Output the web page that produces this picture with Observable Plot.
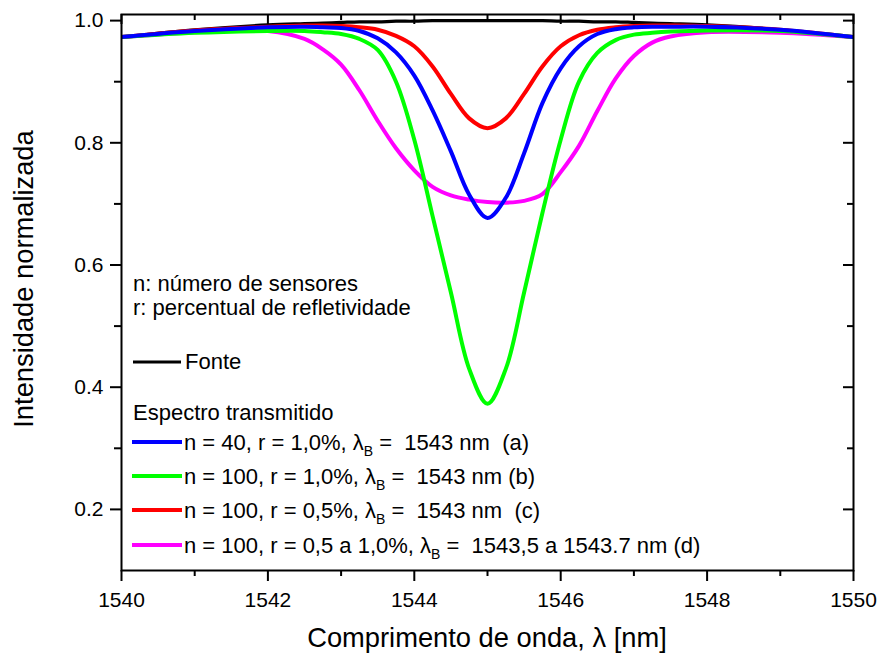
<!DOCTYPE html>
<html><head><meta charset="utf-8">
<script src="https://cdn.jsdelivr.net/npm/d3@7"></script>
<script src="https://cdn.jsdelivr.net/npm/@observablehq/plot@0.6"></script>
<style>
body{margin:0;background:#fff}
svg{font-family:"Liberation Sans",Arial,sans-serif}
</style>
</head><body><div id="chart"></div>
<script>
// Wavelength grid (nm)
const wavelength = [1540,1541,1542,1542.5,1542.75,1543,1543.25,1543.5,1543.75,1544,1544.25,1544.5,1544.75,1545,1545.25,1545.5,1545.75,1546,1546.25,1546.5,1546.75,1547,1547.25,1547.5,1548,1549,1550];
// Fonte (black)
const fonte  = [0.973,0.985,0.993,0.995,0.996,0.997,0.998,0.998,0.999,0.999,1.0,1.0,1.0,1.0,1.0,1.0,1.0,0.999,0.999,0.998,0.998,0.997,0.996,0.995,0.993,0.985,0.973];
// (a) n=40, r=1,0% (blue)
const serieA = [0.973,0.983,0.989,0.990,0.989,0.988,0.983,0.971,0.948,0.910,0.853,0.786,0.715,0.677,0.710,0.783,0.865,0.922,0.958,0.978,0.986,0.989,0.990,0.990,0.990,0.985,0.973];
// (b) n=100, r=1,0% (green)
const serieB = [0.973,0.980,0.983,0.983,0.981,0.978,0.970,0.952,0.900,0.805,0.680,0.555,0.430,0.373,0.430,0.555,0.685,0.805,0.900,0.947,0.968,0.977,0.980,0.982,0.984,0.983,0.973];
// (c) n=100, r=0,5% (red)
const serieC = [0.973,0.984,0.990,0.992,0.992,0.991,0.989,0.985,0.975,0.958,0.925,0.880,0.840,0.824,0.840,0.880,0.925,0.958,0.976,0.985,0.989,0.991,0.992,0.992,0.991,0.985,0.973];
// (d) n=100, r=0,5 a 1,0% (magenta)
const serieD = [0.973,0.981,0.983,0.970,0.953,0.928,0.886,0.836,0.791,0.755,0.728,0.714,0.707,0.703,0.702,0.705,0.716,0.752,0.795,0.852,0.905,0.942,0.964,0.974,0.981,0.980,0.973];

const xTicks = [1540,1542,1544,1546,1548,1550];
const xMinorTicks = [1541,1543,1545,1547,1549];
const yTicks = [0.2,0.4,0.6,0.8,1.0];
const yMinorTicks = [0.3,0.5,0.7,0.9];

const xTitle = "Comprimento de onda, λ [nm]";
const yTitle = "Intensidade normalizada";
const noteLines = ["n: número de sensores","r: percentual de refletividade"];
const fonteLabel = "Fonte";
const legendTitle = "Espectro transmitido";
const legendLabels = [
  ["n = 40, r = 1,0%, λ", "B", " =  1543 nm  (a)"],
  ["n = 100, r = 1,0%, λ", "B", " =  1543 nm (b)"],
  ["n = 100, r = 0,5%, λ", "B", " =  1543 nm  (c)"],
  ["n = 100, r = 0,5 a 1,0%, λ", "B", " =  1543,5 a 1543.7 nm (d)"]
];

// draw order: black, magenta, red, green, blue
const series = [
  {values: fonte,  color: "#000000", w: 3.2},
  {values: serieD, color: "#ff00ff", w: 4},
  {values: serieC, color: "#ff0000", w: 4},
  {values: serieB, color: "#00ff00", w: 4},
  {values: serieA, color: "#0000ff", w: 4}
];
const legendColors = ["#0000ff","#00ff00","#ff0000","#ff00ff"];

const W = 880, H = 657, mL = 121, mR = 27, mT = 14, mB = 87;
const fw = W - mL - mR, fh = H - mT - mB;

const lineMarks = series.map(s =>
  Plot.line(wavelength.map((x, i) => ({x, y: s.values[i]})), {
    x: "x", y: "y", stroke: s.color, strokeWidth: s.w, curve: "catmull-rom", clip: true
  })
);

const chart = Plot.plot({
  width: W, height: H,
  marginLeft: mL, marginRight: mR, marginTop: mT, marginBottom: mB,
  style: {background: "#fff", color: "#000", fontFamily: '"Liberation Sans",Arial,sans-serif'},
  x: {domain: [1540, 1550]},
  y: {domain: [0.1, 1.01]},
  marks: [
    ...lineMarks,
    Plot.frame({stroke: "#000", strokeWidth: 2}),
    Plot.axisX({ticks: xTicks, tickSize: 11, tickPadding: 11, strokeWidth: 2, fontSize: 21, tickFormat: d3.format("d"), label: null}),
    Plot.axisX({ticks: xMinorTicks, tickSize: 6, strokeWidth: 2, text: null, label: null}),
    Plot.axisY({ticks: yTicks, tickSize: 11, tickPadding: 7, strokeWidth: 2, fontSize: 21, tickFormat: d3.format(".1f"), label: null}),
    Plot.axisY({ticks: yMinorTicks, tickSize: 7, strokeWidth: 2, text: null, label: null}),
    Plot.tickX(xTicks, {x: d => d, insetBottom: fh - 10, stroke: "#000", strokeWidth: 2}),
    Plot.tickX(xMinorTicks, {x: d => d, insetBottom: fh - 6, stroke: "#000", strokeWidth: 2}),
    Plot.tickY(yTicks, {y: d => d, insetLeft: fw - 10, stroke: "#000", strokeWidth: 2}),
    Plot.tickY(yMinorTicks, {y: d => d, insetLeft: fw - 6, stroke: "#000", strokeWidth: 2})
  ]
});
document.getElementById("chart").appendChild(chart);

const svg = d3.select(chart);
// axis titles
svg.append("text").attr("x", mL + fw / 2).attr("y", 647).attr("text-anchor", "middle")
  .attr("font-size", 27.3).attr("fill", "#000").text(xTitle);
svg.append("text").attr("transform", "translate(33,279) rotate(-90)").attr("text-anchor", "middle")
  .attr("font-size", 27.3).attr("fill", "#000").text(yTitle);

// in-plot notes & legend
const g = svg.append("g").attr("font-size", 22).attr("fill", "#000")
  .attr("text-anchor", "start").style("white-space", "pre");
noteLines.forEach((t, i) => g.append("text").attr("x", 133).attr("y", 291 + i * 24).text(t));
g.append("line").attr("x1", 133).attr("x2", 181).attr("y1", 362).attr("y2", 362)
  .attr("stroke", "#000").attr("stroke-width", 3.2);
g.append("text").attr("x", 185).attr("y", 368.5).text(fonteLabel);
g.append("text").attr("x", 133).attr("y", 420).text(legendTitle);
const ly = [442, 476, 510, 545];
legendLabels.forEach((parts, i) => {
  g.append("line").attr("x1", 132).attr("x2", 182).attr("y1", ly[i]).attr("y2", ly[i])
    .attr("stroke", legendColors[i]).attr("stroke-width", 4);
  const t = g.append("text").attr("x", 184).attr("y", ly[i] + 7.5);
  t.append("tspan").text(parts[0]);
  t.append("tspan").attr("font-size", 14).attr("dy", 6).text(parts[1]);
  t.append("tspan").attr("dy", -6).text(parts[2]);
});
</script>
</body></html>
